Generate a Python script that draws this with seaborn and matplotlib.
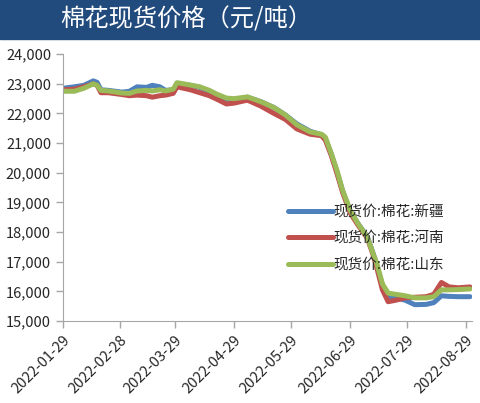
import matplotlib
matplotlib.use("Agg")
import matplotlib.pyplot as plt
import matplotlib.dates as mdates
import pandas as pd
import seaborn as sns

# values
dates = ['2022-01-29', '2022-02-04', '2022-02-09', '2022-02-14', '2022-02-16',
         '2022-02-18', '2022-02-22', '2022-03-01', '2022-03-05', '2022-03-09',
         '2022-03-14', '2022-03-17', '2022-03-21', '2022-03-24', '2022-03-28',
         '2022-03-30', '2022-04-06', '2022-04-11', '2022-04-16', '2022-04-20',
         '2022-04-25', '2022-04-29', '2022-05-06', '2022-05-13', '2022-05-20',
         '2022-05-26', '2022-06-01', '2022-06-08', '2022-06-14', '2022-06-16',
         '2022-06-19', '2022-06-22', '2022-06-25', '2022-06-29', '2022-07-03',
         '2022-07-08', '2022-07-11', '2022-07-13', '2022-07-16', '2022-07-19',
         '2022-07-23', '2022-07-28', '2022-08-02', '2022-08-08', '2022-08-12',
         '2022-08-16', '2022-08-20', '2022-08-25', '2022-08-31']
xinjiang = [22850, 22900, 22950, 23100, 23050, 22800, 22780, 22720, 22750, 22900,
            22880, 22950, 22900, 22780, 22800, 23000, 22950, 22880, 22700, 22600,
            22480, 22450, 22550, 22400, 22200, 21950, 21650, 21400, 21280, 21150,
            20650, 20050, 19400, 18700, 18300, 17850, 17300, 16900, 16200, 15750,
            15780, 15700, 15550, 15560, 15620, 15850, 15830, 15820, 15820]
henan = [22800, 22820, 22900, 23000, 22950, 22700, 22700, 22640, 22600, 22620,
         22600, 22550, 22600, 22620, 22680, 22900, 22800, 22700, 22600, 22480,
         22320, 22350, 22450, 22250, 22000, 21800, 21480, 21300, 21250, 21100,
         20600, 20000, 19350, 18650, 18250, 17800, 17250, 16800, 16050, 15650,
         15700, 15780, 15800, 15820, 15900, 16300, 16150, 16120, 16150]
shandong = [22750, 22750, 22850, 23000, 22950, 22780, 22760, 22690, 22680, 22760,
            22780, 22760, 22800, 22760, 22820, 23040, 22960, 22900, 22780, 22650,
            22520, 22500, 22560, 22400, 22200, 21950, 21620, 21380, 21300, 21200,
            20670, 20100, 19420, 18740, 18300, 17830, 17290, 16950, 16250, 15940,
            15900, 15850, 15780, 15780, 15820, 16050, 16050, 16060, 16080]

names = ['现货价:棉花:新疆', '现货价:棉花:河南', '现货价:棉花:山东']
colors = ['#4f81bd', '#c0504d', '#9bbb59']
tick_dates = ['2022-01-29', '2022-02-28', '2022-03-29', '2022-04-29',
              '2022-05-29', '2022-06-29', '2022-07-29', '2022-08-29']
yticks = [15000, 16000, 17000, 18000, 19000, 20000, 21000, 22000, 23000, 24000]
title = '棉花现货价格（元/吨）'

df = pd.DataFrame({'date': pd.to_datetime(dates),
                   names[0]: xinjiang, names[1]: henan, names[2]: shandong})
dd = pd.melt(df, id_vars=['date'], var_name='series', value_name='price')

sns.set_style("white")
plt.rcParams['font.family'] = ['Noto Sans CJK SC', 'DejaVu Sans']

fig = plt.figure(figsize=(4.8, 4.03), dpi=100)
ax = fig.add_axes([0.131, 0.2035, 0.852, 0.662])

# title banner across the top
fig.patches.append(plt.Rectangle((0, 0.903), 1, 0.097, transform=fig.transFigure,
                                 color='#214a7d', zorder=0))
fig.text(0.125, 0.952, title, color='white', fontsize=17.5, va='center', ha='left')

sns.lineplot(data=dd, x='date', y='price', hue='series', hue_order=names,
             palette=colors, linewidth=3.6, ax=ax)

ax.set_xlim(pd.Timestamp('2022-01-29'), pd.Timestamp('2022-09-01'))
ax.set_ylim(15000, 24000)
ax.set_yticks(yticks)
ax.set_yticklabels([f'{v:,}' for v in yticks])
ax.set_xticks(pd.to_datetime(tick_dates))
ax.xaxis.set_major_formatter(mdates.DateFormatter('%Y-%m-%d'))
for lab in ax.get_xticklabels():
    lab.set_rotation(45)
    lab.set_ha('right')
    lab.set_rotation_mode('anchor')
ax.tick_params(axis='both', colors='#a6a6a6', labelcolor='#262626',
               labelsize=10.5, length=5, width=1, direction='out',
               left=True, bottom=True)
ax.set_xlabel('')
ax.set_ylabel('')
for s in ['top', 'right']:
    ax.spines[s].set_visible(False)
for s in ['left', 'bottom']:
    ax.spines[s].set_color('#a6a6a6')

ax.legend(loc='center left', bbox_to_anchor=(0.55, 0.31), frameon=False,
          fontsize=10.5, handlelength=3.1, handletextpad=0.0,
          labelspacing=0.85, borderpad=0, borderaxespad=0)

fig.savefig('out.png', dpi=100)
